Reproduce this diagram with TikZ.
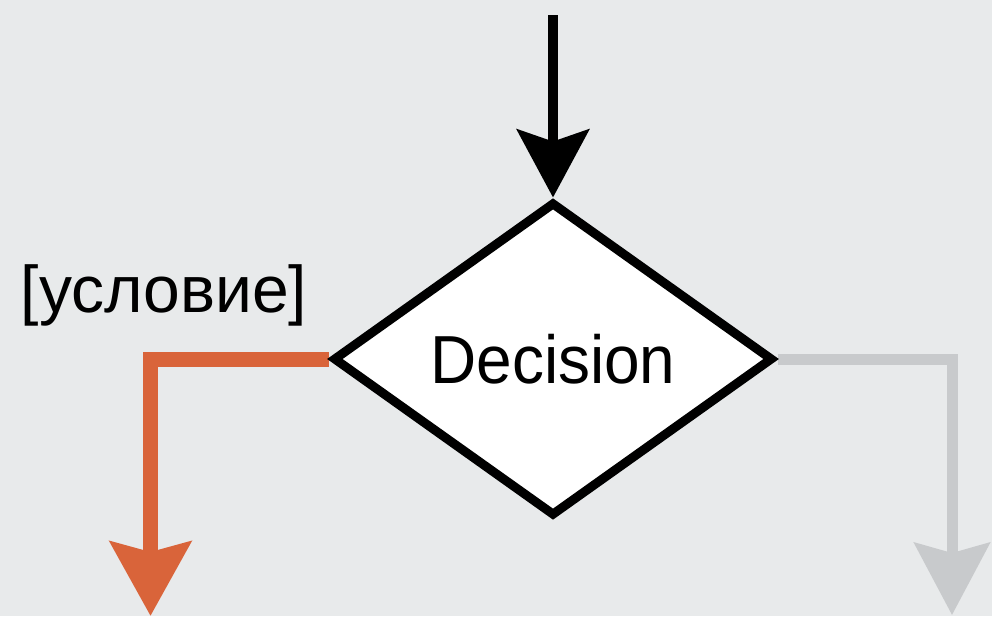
\documentclass[tikz,border=0pt]{standalone}
\usepackage{fontspec}
\setmainfont{Liberation Sans}
\usetikzlibrary{shapes.geometric,arrows.meta}
\definecolor{bg}{HTML}{E8EAEB}
\definecolor{orng}{HTML}{D9643A}
\definecolor{gry}{HTML}{C8CACC}
\pgfdeclarelayer{canvas}
\pgfdeclarelayer{background}
\pgfsetlayers{canvas,background,main}
\begin{document}
\begin{tikzpicture}[x=1pt,y=-1pt,
  decision/.style={diamond, draw=black, fill=white, line width=9pt,
    minimum width=440pt, minimum height=314pt, inner sep=0pt,
    font=\fontsize{68}{72}\selectfont},
  label/.style={font=\fontsize{66}{70}\selectfont, inner sep=0pt},
  inflow/.style={line width=10pt, draw=black,
    -{Stealth[length=68pt,width=72pt,inset=12pt]}},
  yesflow/.style={line width=15pt, draw=orng,
    -{Stealth[length=74pt,width=80pt,inset=10pt]}},
  noflow/.style={line width=11pt, draw=gry,
    -{Stealth[length=72pt,width=75pt,inset=10pt]}}]
\begin{pgfonlayer}{canvas}
\fill[bg] (0,0) rectangle (992,616);
\end{pgfonlayer}
\useasboundingbox (0,0) rectangle (992,616);
\node[decision] (d) at (553,359) {\scalebox{0.94}[1]{Decision}};
\node[label] (cond) at (164,295) {[условие]};
\coordinate (start) at (553,15);
\coordinate (lbot) at (150.5,616);
\coordinate (rbot) at (952,615);
\begin{pgfonlayer}{background}
\draw[inflow] (start) -- (d.north);
\draw[yesflow] (d.west) -| (lbot);
\draw[noflow] (d.east) -| (rbot);
\end{pgfonlayer}
\end{tikzpicture}
\end{document}
